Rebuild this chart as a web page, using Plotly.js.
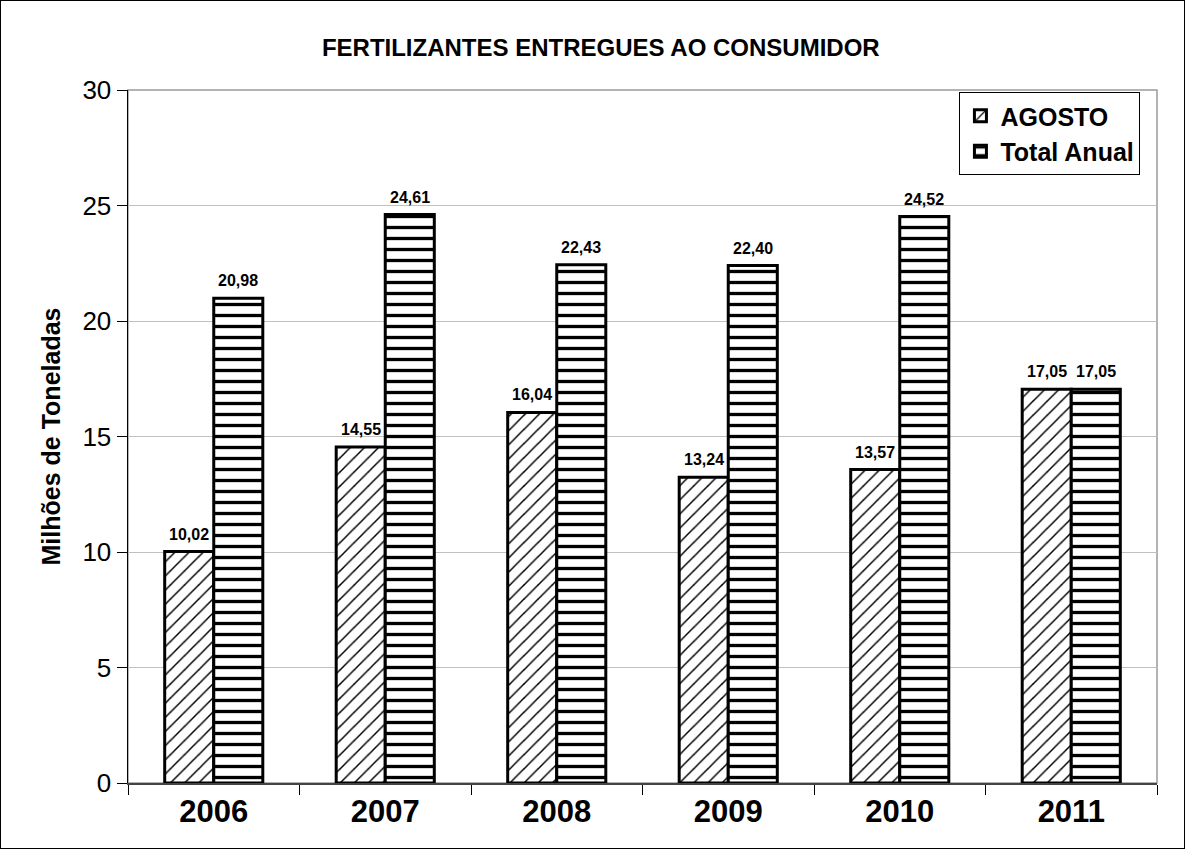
<!DOCTYPE html>
<html>
<head>
<meta charset="utf-8">
<script src="https://cdn.plot.ly/plotly-3.0.1.min.js"></script>
<style>
  html, body { margin: 0; padding: 0; background: #fff; }
  #chart { width: 1183px; height: 847px; border: 1px solid #000; }
</style>
</head>
<body>
<div id="chart"></div>
<script>
const categories = ["2006", "2007", "2008", "2009", "2010", "2011"];
const agosto = [10.02, 14.55, 16.04, 13.24, 13.57, 17.05];
const totalAnual = [20.98, 24.61, 22.43, 22.40, 24.52, 17.05];
const seriesNames = ["AGOSTO", "Total Anual"];
const titleText = "FERTILIZANTES ENTREGUES AO CONSUMIDOR";
const yTitleText = "Milhões de Toneladas";

const FONT = "Liberation Sans, Arial, sans-serif";
const fmt = v => v.toFixed(2).replace(".", ",");

const traces = [
  {
    type: "bar", name: seriesNames[0], x: categories, y: agosto,
    marker: {
      color: "#ffffff",
      line: {color: "#000", width: 3},
      pattern: {shape: "/", size: 10, solidity: 0.15, fgcolor: "#000", bgcolor: "#fff"}
    }
  },
  {
    type: "bar", name: seriesNames[1], x: categories, y: totalAnual,
    marker: {
      color: "#ffffff",
      line: {color: "#000", width: 3},
      pattern: {shape: "-", size: 11, solidity: 0.3, fgcolor: "#000", bgcolor: "#fff"}
    }
  }
];

const annotations = [];
[agosto, totalAnual].forEach((vals, si) => {
  vals.forEach((v, i) => {
    annotations.push({
      x: i, y: v, xref: "x", yref: "y",
      xshift: si === 0 ? -24.5 : 24.5, yshift: 7,
      yanchor: "bottom", xanchor: "center",
      text: "<b>" + fmt(v) + "</b>", showarrow: false,
      font: {family: FONT, size: 16, color: "#000"}
    });
  });
});

const layout = {
  width: 1183, height: 847,
  margin: {l: 127, r: 27, t: 89, b: 65},
  paper_bgcolor: "#fff", plot_bgcolor: "#fff",
  font: {family: FONT, color: "#000"},
  barmode: "group", bargap: 0.428, bargroupgap: 0,
  title: {
    text: "<b>" + titleText + "</b>",
    font: {family: FONT, size: 24, color: "#000"},
    x: 0.507, xref: "container", xanchor: "center",
    y: 0.945, yref: "container", yanchor: "middle"
  },
  xaxis: {
    type: "category",
    categoryorder: "array", categoryarray: categories,
    range: [-0.5, categories.length - 0.5],
    tickson: "boundaries",
    ticks: "outside", ticklen: 10, tickcolor: "#000", tickwidth: 1,
    showline: true, linecolor: "#444", linewidth: 1.5,
    tickfont: {family: FONT, size: 31, color: "#000", weight: "bold"},
    showgrid: false
  },
  yaxis: {
    range: [0, 30], dtick: 5,
    ticks: "outside", ticklen: 10, tickcolor: "#000", tickwidth: 1,
    showline: true, linecolor: "#000", linewidth: 1.5,
    showgrid: true, gridcolor: "#c0c0c0", gridwidth: 1,
    zeroline: false,
    tickfont: {family: FONT, size: 26, color: "#000"},
    title: {text: "<b>" + yTitleText + "</b>", font: {family: FONT, size: 25, color: "#000"}, standoff: 14}
  },
  legend: {
    x: 0.808, y: 0.997, xanchor: "left", yanchor: "top",
    bgcolor: "#fff", bordercolor: "#000", borderwidth: 1,
    font: {family: FONT, size: 25, color: "#000", weight: "bold"},
    tracegroupgap: 0, itemwidth: 30
  },
  annotations: annotations,
  shapes: [
    {type: "rect", xref: "paper", yref: "paper", x0: 0, x1: 1, y0: 0, y1: 1,
     line: {color: "#9a9a9a", width: 1.5}, layer: "below"}
  ],
  showlegend: true
};

Plotly.newPlot("chart", traces, layout, {displayModeBar: false, staticPlot: true});
</script>
</body>
</html>
